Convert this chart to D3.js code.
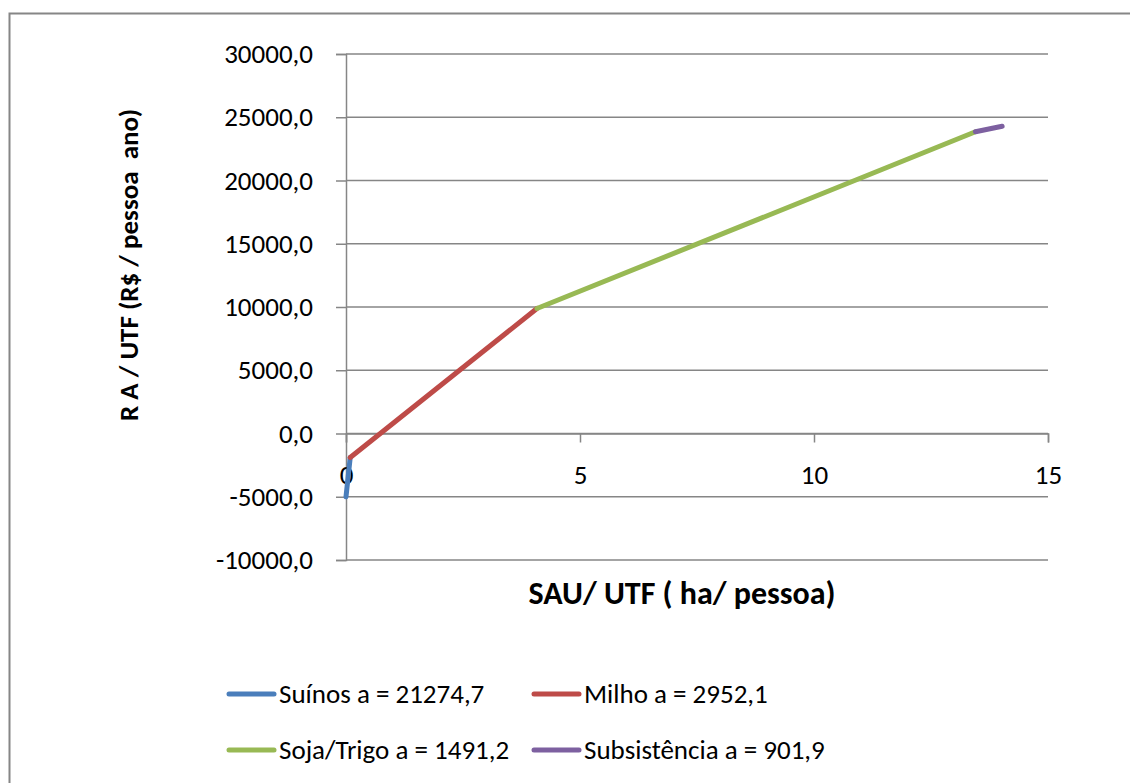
<!DOCTYPE html>
<html>
<head>
<meta charset="utf-8">
<script src="https://cdn.jsdelivr.net/npm/d3@7"></script>
<style>
body { margin: 0; background: #fff; }
text { font-family: Carlito, "Open Sans", sans-serif; fill: #000; }
</style>
</head>
<body>
<div id="vis"></div>
<script>
// series: each is a straight segment [x, y]
const suinos = [[0, -5000], [0.09, -1900]];
const milho = [[0.09, -1900], [4.08, 9880]];
const sojaTrigo = [[4.08, 9880], [13.45, 23850]];
const subsistencia = [[13.45, 23850], [14.02, 24290]];

const seriesNames = ["Suínos a = 21274,7", "Milho a = 2952,1", "Soja/Trigo a = 1491,2", "Subsistência a = 901,9"];
const seriesColors = ["#4A7EBB", "#BE4B48", "#98B954", "#7D60A0"];
const seriesData = [suinos, milho, sojaTrigo, subsistencia];

const yTicks = [30000, 25000, 20000, 15000, 10000, 5000, 0, -5000, -10000];
const xTicks = [0, 5, 10, 15];

const W = 1130, H = 783;
const svg = d3.select("#vis").append("svg")
	.attr("width", W)
	.attr("height", H);

// outer chart border
svg.append("rect")
	.attr("x", 9.5).attr("y", 13.5)
	.attr("width", 1200).attr("height", 900)
	.attr("fill", "none")
	.attr("stroke", "#868686")
	.attr("stroke-width", 2);

const x = d3.scaleLinear().domain([0, 15]).range([346, 1048]);
const y = d3.scaleLinear().domain([-10000, 30000]).range([560, 54]);

const fmt = v => d3.format(".1f")(v).replace("−", "-").replace(".", ",");

// gridlines
svg.append("g")
	.selectAll("line")
	.data(yTicks)
	.enter()
	.append("line")
	.attr("x1", x(0)).attr("x2", x(15))
	.attr("y1", d => y(d)).attr("y2", d => y(d))
	.attr("stroke", "#868686")
	.attr("stroke-width", 1.5);

const yAxis = svg.append("g")
	.attr("transform", `translate(${x(0)},0)`)
	.call(d3.axisLeft(y).tickValues(yTicks).tickSize(10).tickFormat(fmt));
yAxis.select(".domain").attr("stroke", "#868686").attr("stroke-width", 1.5);
yAxis.selectAll(".tick line").attr("stroke", "#868686").attr("stroke-width", 1.5);
yAxis.selectAll(".tick text")
	.attr("x", -33)
	.attr("font-size", 27)
	.attr("font-family", null);

const xAxis = svg.append("g")
	.attr("transform", `translate(0,${y(0)})`)
	.call(d3.axisBottom(x).tickValues(xTicks).tickSize(9).tickFormat(d => d));
xAxis.select(".domain").attr("stroke", "#868686").attr("stroke-width", 1.5);
xAxis.selectAll(".tick line").attr("stroke", "#868686").attr("stroke-width", 1.5);
xAxis.selectAll(".tick text")
	.attr("y", 41)
	.attr("dy", "0.35em")
	.attr("font-size", 27)
	.attr("font-family", null);

const line = d3.line().x(d => x(d[0])).y(d => y(d[1]));

svg.append("g")
	.selectAll("path")
	.data(seriesData)
	.enter()
	.append("path")
	.attr("d", d => line(d))
	.attr("fill", "none")
	.attr("stroke", (d, i) => seriesColors[i])
	.attr("stroke-width", 5)
	.attr("stroke-linecap", "round");

// axis titles
svg.append("text")
	.attr("x", 682).attr("y", 604)
	.attr("text-anchor", "middle")
	.attr("font-size", 32)
	.attr("font-weight", "bold")
	.text("SAU/ UTF ( ha/ pessoa)");

svg.append("text")
	.attr("transform", "translate(138,265) rotate(-90)")
	.attr("text-anchor", "middle")
	.attr("font-size", 27)
	.attr("font-weight", "bold")
	.style("white-space", "pre")
	.text("R A / UTF (R$ / pessoa  ano)");

// legend
const legendPos = [[229, 694], [534, 694], [229, 750], [534, 750]];
const legend = svg.append("g")
	.selectAll("g")
	.data(seriesNames)
	.enter()
	.append("g")
	.attr("transform", (d, i) => `translate(${legendPos[i][0]},${legendPos[i][1]})`);
legend.append("line")
	.attr("x1", 0).attr("x2", 45)
	.attr("stroke", (d, i) => seriesColors[i])
	.attr("stroke-width", 5)
	.attr("stroke-linecap", "round");
legend.append("text")
	.attr("x", 50)
	.attr("dy", "0.35em")
	.attr("font-size", 27)
	.text(d => d);
</script>
</body>
</html>
